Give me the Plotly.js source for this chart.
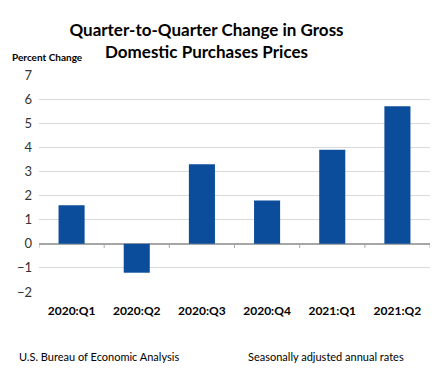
<!DOCTYPE html>
<html><head><meta charset="utf-8">
<script src="https://cdn.plot.ly/plotly-3.0.1.min.js"></script>
<style>html,body{margin:0;padding:0;background:#fff}</style>
</head><body><div id="chart" style="width:447px;height:374px"></div>
<script>
var categories = ["2020:Q1","2020:Q2","2020:Q3","2020:Q4","2021:Q1","2021:Q2"];
var values = [1.6, -1.2, 3.3, 1.8, 3.9, 5.7];
var yTicks = [-2,-1,0,1,2,3,4,5,6,7];

var font = "Lato, 'Open Sans', sans-serif";
var boundaryShapes = [];
for (var i = 0; i <= categories.length; i++) {
  boundaryShapes.push({type:"line", xref:"x", yref:"y", x0:i-0.5, x1:i-0.5, y0:0, y1:-0.17,
    line:{color:"#a6a6a6", width:1}});
}
Plotly.newPlot("chart", [{
  type:"bar", x:categories, y:values,
  marker:{color:"#0b4d9b"}, hoverinfo:"none"
}], {
  width:447, height:374,
  margin:{l:39, r:17, t:75, b:82},
  paper_bgcolor:"#fff", plot_bgcolor:"#fff",
  bargap:0.6,
  showlegend:false,
  font:{family:font, color:"#000"},
  title:{text:"<b>Quarter-to-Quarter Change in Gross<br>Domestic Purchases Prices</b>",
    x:0.462, xanchor:"center", y:0.905, yanchor:"middle", font:{size:17, family:font}},
  xaxis:{type:"category", showgrid:false, showline:false, ticks:"",
    tickfont:{size:12, family:font, weight:"bold"}, ticklabelstandoff:10, range:[-0.5,5.5]},
  yaxis:{range:[-2,7], tickvals:yTicks, showgrid:true, gridcolor:"#d9d9d9", gridwidth:1,
    zeroline:true, zerolinecolor:"#a6a6a6", zerolinewidth:1.5, showline:false,
    tickfont:{size:13, family:font, color:"#333"}, ticklabelstandoff:6},
  shapes:boundaryShapes,
  annotations:[
    {text:"<b>Percent Change</b>", xref:"paper", yref:"paper", x:-0.075, y:1.085, xanchor:"left", yanchor:"middle",
      showarrow:false, font:{size:10, family:font}},
    {text:"U.S. Bureau of Economic Analysis", xref:"paper", yref:"paper", x:-0.055, y:-0.295, xanchor:"left", yanchor:"middle",
      showarrow:false, font:{size:11, family:font}},
    {text:"Seasonally adjusted annual rates", xref:"paper", yref:"paper", x:0.529, y:-0.295, xanchor:"left", yanchor:"middle",
      showarrow:false, font:{size:11, family:font}}
  ]
}, {staticPlot:true});
</script></body></html>
